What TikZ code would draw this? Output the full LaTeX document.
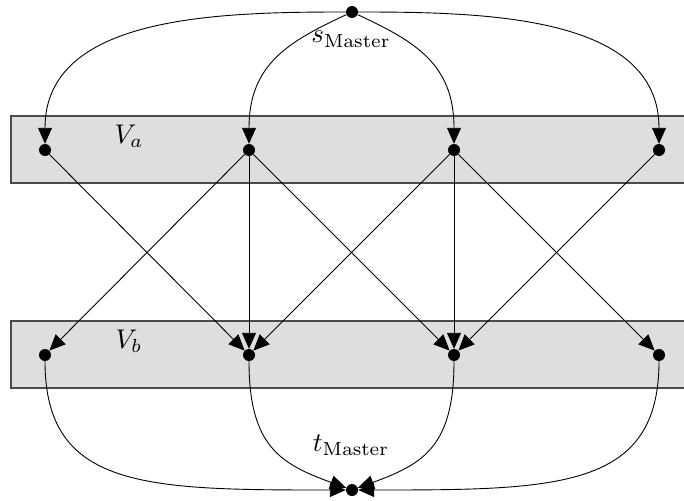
\documentclass[tikz,border=0pt]{standalone}
\usetikzlibrary{arrows.meta}
\definecolor{bandgray}{RGB}{222,222,222}
\definecolor{bordergray}{RGB}{75,75,75}
\newcommand{\bigtxt}[1]{\scalebox{2.7}{#1}}
\begin{document}
\begin{tikzpicture}[x=1pt,y=-1pt,
  vert/.style={circle,fill=black,inner sep=0pt,minimum size=12pt},
  band/.style={fill=bandgray,draw=bordergray,line width=1.1pt},
  arc/.style={line width=0.9pt,-{Triangle[length=16pt,width=14pt]}},
  lbl/.style={inner sep=0pt}]
\useasboundingbox (0,0) rectangle (684,500);
% bands
\draw[band] (11,116) rectangle (700,183);
\draw[band] (11,321) rectangle (700,388);
% vertices
\node[vert] (s) at (352,12) {};
\node[vert] (t) at (352,490) {};
\node[vert] (a1) at (45,150) {};
\node[vert] (a2) at (249,150) {};
\node[vert] (a3) at (454,150) {};
\node[vert] (a4) at (659,150) {};
\node[vert] (b1) at (45,355) {};
\node[vert] (b2) at (249,355) {};
\node[vert] (b3) at (454,355) {};
\node[vert] (b4) at (659,355) {};
% labels
\node[lbl,anchor=base] (la) at (129,143) {\bigtxt{$V_a$}};
\node[lbl,anchor=base] (lb) at (129,348) {\bigtxt{$V_b$}};
\node[lbl,anchor=base] (ls) at (351,43) {\bigtxt{$s_{\mathrm{Master}}$}};
\node[lbl,anchor=base] (lt) at (351,451) {\bigtxt{$t_{\mathrm{Master}}$}};
% source edges
\draw[arc] (s) to[out=180,in=90] (a1);
\draw[arc] (s) to[out=205,in=90,out distance=63pt,in distance=80pt] (a2);
\draw[arc] (s) to[out=-25,in=90,out distance=63pt,in distance=80pt] (a3);
\draw[arc] (s) to[out=0,in=90] (a4);
% middle edges
\draw[arc] (a1) -- (b2);
\draw[arc] (a2) -- (b1);
\draw[arc] (a2) -- (b2);
\draw[arc] (a2) -- (b3);
\draw[arc] (a3) -- (b2);
\draw[arc] (a3) -- (b3);
\draw[arc] (a3) -- (b4);
\draw[arc] (a4) -- (b3);
% sink edges
\draw[arc] (b1) to[out=-90,in=180,out distance=128pt,in distance=200pt] (t);
\draw[arc] (b2) to[out=-90,in=160,out distance=85pt,in distance=70pt] (t);
\draw[arc] (b3) to[out=-90,in=20,out distance=85pt,in distance=70pt] (t);
\draw[arc] (b4) to[out=-90,in=0,out distance=128pt,in distance=200pt] (t);
\end{tikzpicture}
\end{document}
